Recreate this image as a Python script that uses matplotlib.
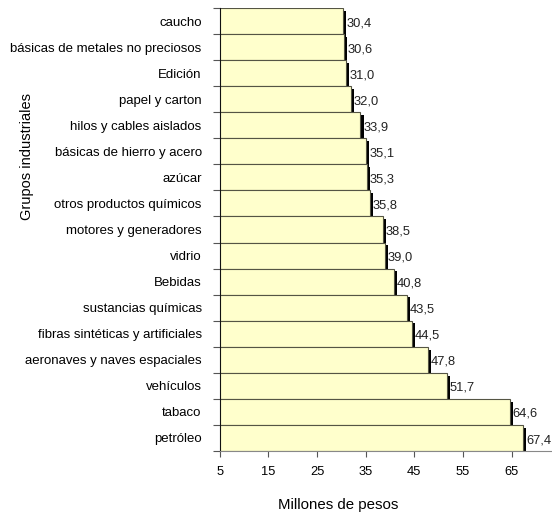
import matplotlib
matplotlib.use("Agg")
import matplotlib.pyplot as plt
import matplotlib.patheffects as pe

plt.rcParams["font.family"] = ["Liberation Sans", "DejaVu Sans"]

grupos = [
    "caucho",
    "básicas de metales no preciosos",
    "Edición",
    "papel y carton",
    "hilos y cables aislados",
    "básicas de hierro y acero",
    "azúcar",
    "otros productos químicos",
    "motores y generadores",
    "vidrio",
    "Bebidas",
    "sustancias químicas",
    "fibras sintéticas y artificiales",
    "aeronaves y naves espaciales",
    "vehículos",
    "tabaco",
    "petróleo",
]
valores = [30.4, 30.6, 31.0, 32.0, 33.9, 35.1, 35.3, 35.8, 38.5, 39.0,
           40.8, 43.5, 44.5, 47.8, 51.7, 64.6, 67.4]
xticks = [5, 15, 25, 35, 45, 55, 65]

W, H = 552, 519
fig = plt.figure(figsize=(W / 100, H / 100), dpi=100)
ax = fig.add_axes((219.7 / W, 1 - 451 / H, 1 - 219.7 / W, (451 - 8) / H))

ypos = list(range(len(grupos)))
shadow = [pe.SimplePatchShadow(offset=(2.3, -2.0), shadow_rgbFace="black", alpha=1.0),
          pe.Normal()]
bars = ax.barh(ypos, valores, height=1.0, color="#ffffcc",
               edgecolor="#555544", linewidth=0.8)
for b in bars:
    b.set_path_effects(shadow)

for y, v in zip(ypos, valores):
    ax.text(v + 0.6, y + 0.08, f"{v:.1f}".replace(".", ","),
            va="center", ha="left", fontsize=9.3, color="#222222")

ax.set_xlim(5, 73.3)
ax.set_ylim(len(grupos) - 0.5, -0.5)
ax.set_xticks(xticks)
ax.set_xticklabels([str(t) for t in xticks], fontsize=9.3)
ax.set_yticks(ypos)
ax.set_yticklabels(grupos, fontsize=9.5)
ax.set_yticks([y + 0.5 for y in range(-1, len(grupos))], minor=True)
ax.tick_params(axis="y", which="major", length=0, pad=13)
ax.tick_params(axis="y", which="minor", length=5, width=0.8, color="#555555")
ax.tick_params(axis="x", length=4, width=0.8, color="#555555", pad=7)

for s in ["top", "right"]:
    ax.spines[s].set_visible(False)
ax.spines["left"].set_color("#111111")
ax.spines["bottom"].set_color("#888888")

fig.text(27 / W, 1 - 157 / H, "Grupos industriales", rotation=90,
         ha="center", va="center", fontsize=10.5)
fig.text(338 / W, 1 - 505 / H, "Millones de pesos",
         ha="center", va="center", fontsize=10.8)

fig.savefig("out.png", dpi=100)
